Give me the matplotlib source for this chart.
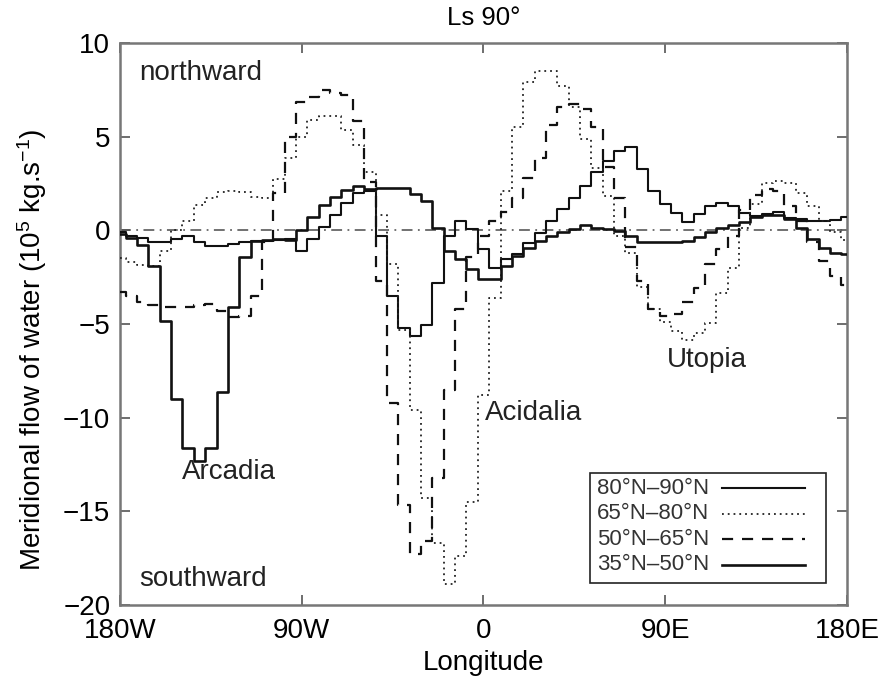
import numpy as np
import matplotlib
matplotlib.use("Agg")
import matplotlib.pyplot as plt
from matplotlib.lines import Line2D
from matplotlib.patches import Rectangle

plt.rcParams['font.family'] = ['Liberation Sans', 'DejaVu Sans']
plt.rcParams['mathtext.fontset'] = 'custom'
plt.rcParams['mathtext.rm'] = 'Liberation Sans'
plt.rcParams['mathtext.it'] = 'Liberation Sans:italic'

# longitude grid (bin centres, degrees)
lon = np.arange(-180, 180.01, 5.625)

lat_80_90 = [-0.1, -0.3, -0.4, -0.6, -0.6, -0.45, -0.3, -0.65, -0.85, -0.85, -0.75, -0.6, -0.55, -0.55, -0.5, -0.45,
             -1.1, -0.48, 0.2, 0.8, 1.45, 2.0, 2.1,
             -0.3, -3.5, -5.2, -5.65, -5.03, -2.8,
             -0.3, 0.5, 0.05, -1.0, -2.0, -1.55, -1.28, -0.66, -0.12,
             0.5, 1.12, 1.75, 2.37, 3.09, 3.7, 4.24, 4.47, 3.26, 2.1, 1.42, 0.9, 0.45, 0.85, 1.3, 1.46, 1.3,
             0.9, 0.75, 0.86, 0.98, 0.65, 0.59, 0.5, 0.5, 0.55, 0.73]

lat_65_80 = [-1.5, -1.7, -1.85, -1.9, -1.1, 0.0, 0.5, 1.35, 1.7, 2.05, 2.1, 2.05, 1.8, 1.75, 2.73, 3.85,
             5.0, 5.9, 6.1, 6.1, 5.35, 4.55, 3.09,
             0.8, -1.8, -5.3, -9.57, -14.3, -16.7,
             -18.9, -17.4, -14.5, -8.77, -3.6, 2.1, 5.49, 7.9, 8.52,
             8.52, 7.7, 6.56, 4.87, 3.35, 1.83, -0.3, -1.2, -3.0, -4.2, -4.9, -5.4, -5.85, -5.5, -4.95, -3.35, -2.0,
             0.1, 1.4, 2.5, 2.65, 2.55, 2.0, 1.3, 0.5, -0.1, -0.5]

lat_50_65 = [-3.3, -3.5, -3.8, -4.0, -4.1, -4.1, -4.1, -4.0, -3.95, -4.3, -4.65, -4.6, -3.5, -0.6, 2.0, 5.0,
             6.83, 7.1, 7.5, 7.35, 7.2, 5.85, 2.6,
             -2.7, -9.2, -14.65, -17.3, -16.6, -13.2,
             -8.5, -4.22, -1.4, -0.3, 0.5, 1.0, 1.7, 2.8, 3.85,
             5.6, 6.6, 6.74, 6.5, 5.5, 3.4, 1.7, -0.9, -2.7, -4.2, -4.6, -4.45, -3.85, -3.07, -1.78, -1.0, -0.3,
             1.1, 1.9, 2.2, 2.1, 1.3, 0.5, -0.6, -1.64, -2.44, -2.9]

lat_35_50 = [-0.2, -0.4, -0.8, -1.9, -4.85, -9.0, -11.6, -12.3, -11.6, -8.65, -4.1, -1.45, -0.57, -0.5, -0.45, -0.5,
             0.0, 0.72, 1.35, 1.8, 2.15, 2.38, 2.2,
             2.28, 2.28, 2.28, 1.93, 1.57, 0.14,
             -1.1, -1.55, -2.08, -2.6, -2.6, -1.9, -1.37, -0.93, -0.57,
             -0.3, -0.08, 0.05, 0.27, 0.14, 0.05, -0.04, -0.3, -0.6, -0.65, -0.65, -0.62, -0.55, -0.35, -0.1, 0.1, 0.27,
             0.45, 0.7, 0.8, 0.8, 0.6, 0.14, -0.48, -0.93, -1.2, -1.25]

series_labels = ['80\u00b0N\u201390\u00b0N', '65\u00b0N\u201380\u00b0N', '50\u00b0N\u201365\u00b0N', '35\u00b0N\u201350\u00b0N']
xticks = [-180, -90, 0, 90, 180]
xticklabels = ['180W', '90W', '0', '90E', '180E']
yticks = [-20, -15, -10, -5, 0, 5, 10]

fig = plt.figure(figsize=(8.83, 6.82), dpi=100)
ax = fig.add_axes([0.1359, 0.1129, 0.8233, 0.8241])

ax.axhline(0, color='#666666', lw=1.3, ls=(0, (6, 3, 1, 3)), zorder=1)

styles = [
    dict(color='#111111', lw=1.5, ls='-'),
    dict(color='#222222', lw=1.3, ls=(0, (1, 2.2))),
    dict(color='#111111', lw=1.6, ls=(0, (5, 4))),
    dict(color='#111111', lw=1.9, ls='-'),
]
data = [lat_80_90, lat_65_80, lat_50_65, lat_35_50]
for vals, st, lab in zip(data, styles, series_labels):
    ax.step(lon, vals, where='mid', label=lab, zorder=3, **st)

ax.set_xlim(-180, 180)
ax.set_ylim(-20, 10)
ax.set_xticks(xticks)
ax.set_xticklabels(xticklabels)
ax.set_yticks(yticks)
ax.set_yticklabels([('\u2212%d' % -v) if v < 0 else str(v) for v in yticks])
ax.tick_params(direction='in', length=7, width=1.2, top=True, right=True,
               labelsize=20, color='#555555')
ax.tick_params(axis='x', pad=9)
ax.tick_params(axis='y', pad=7)
for sp in ax.spines.values():
    sp.set_color('#777777')
    sp.set_linewidth(1.8)

ax.set_xlabel('Longitude', fontsize=20, labelpad=5)
ax.set_ylabel('Meridional flow of water (10$^5$ kg.s$^{-1}$)', fontsize=20)
ax.yaxis.set_label_coords(-0.097, 0.4537)
ax.set_title('Ls 90\u00b0', fontsize=18.5, pad=13)

txt = dict(fontsize=20, color='#222222', ha='left', va='baseline')
ax.text(-170.5, 8.04, 'northward', **txt)
ax.text(-170.5, -18.98, 'southward', **txt)
ax.text(-149.5, -13.3, 'Arcadia', **txt)
ax.text(0.7, -10.1, 'Acidalia', **txt)
ax.text(90.9, -7.27, 'Utopia', **txt)

# legend box (drawn in axes coordinates)
tr = ax.transAxes
bx0, bx1, by0, by1 = 0.6462, 0.9710, 0.0386, 0.2343
ax.add_patch(Rectangle((bx0, by0), bx1 - bx0, by1 - by0, transform=tr, fill=True,
                       facecolor='white', edgecolor='#222222', lw=1.2, zorder=5))
row_y = [0.2081, 0.1625, 0.1174, 0.0712]
for ry, st, lab in zip(row_y, styles, series_labels):
    ax.text(0.6557, ry, lab, transform=tr, fontsize=16, ha='left', va='center',
            color='#333333', zorder=6)
    ax.add_line(Line2D([0.8285, 0.9429], [ry, ry], transform=tr, zorder=6, **st))

fig.savefig('out.png', dpi=100)
